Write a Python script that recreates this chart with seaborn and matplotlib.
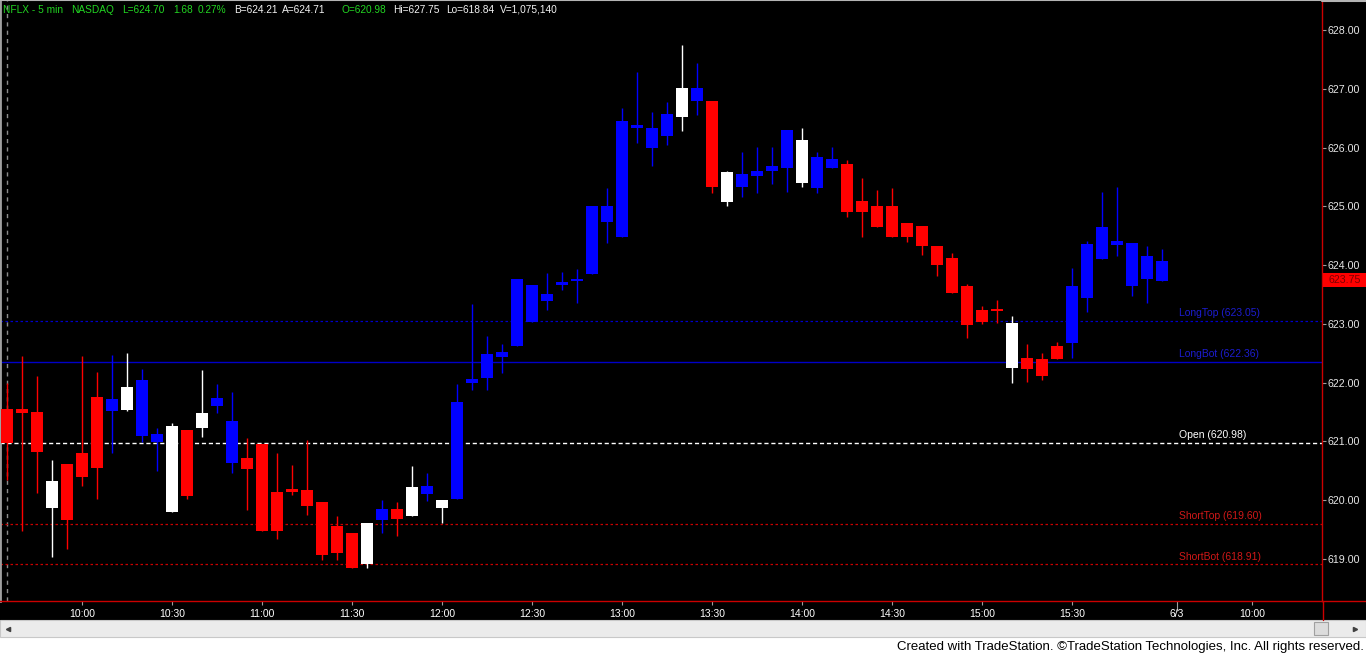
import numpy as np
import pandas as pd
import matplotlib
matplotlib.use("Agg")
import matplotlib.pyplot as plt
from matplotlib.patches import Rectangle
from matplotlib.lines import Line2D
import matplotlib.transforms as mtransforms
import seaborn as sns

# ---------------- data ----------------
times = pd.date_range("2015-06-02 09:35", "2015-06-02 16:00", freq="5min").strftime("%H:%M").tolist()

opens = [620.97, 621.55, 621.50, 619.87, 620.62, 620.80, 621.76, 621.52, 621.54, 621.09,
         620.99, 621.26, 621.19, 621.23, 621.60, 620.63, 620.72, 620.96, 620.14, 620.19,
         620.17, 619.97, 619.56, 619.44, 618.92, 619.66, 619.85, 619.73, 620.11, 620.00,
         620.02, 621.99, 622.08, 622.44, 622.62, 623.03, 623.39, 623.66, 623.73, 623.85,
         624.73, 624.48, 626.33, 626.33, 626.20, 626.52, 626.79, 626.79, 625.58, 625.33,
         625.52, 625.60, 625.65, 625.40, 625.31, 625.65, 625.72, 625.09, 625.01, 625.01,
         624.72, 624.67, 624.33, 624.12, 623.64, 623.24, 623.24, 622.25, 622.42, 622.40,
         622.62, 622.68, 623.44, 624.10, 624.34, 624.38, 624.16, 623.73]
highs = [621.99, 622.45, 622.11, 620.68, 620.62, 622.45, 622.18, 622.47, 622.50, 622.23,
         621.23, 621.31, 621.19, 622.22, 621.98, 621.84, 621.06, 620.96, 620.80, 620.60,
         621.02, 619.97, 619.73, 619.44, 619.61, 620.00, 619.97, 620.58, 620.46, 620.00,
         621.98, 623.34, 622.79, 622.66, 623.76, 623.66, 623.87, 623.88, 623.93, 625.01,
         625.31, 626.67, 627.29, 626.61, 626.78, 627.75, 627.44, 626.79, 625.60, 625.92,
         626.01, 626.01, 626.30, 626.33, 625.92, 626.01, 625.79, 625.48, 625.28, 625.31,
         624.72, 624.67, 624.33, 624.21, 623.68, 623.30, 623.41, 623.13, 622.66, 622.50,
         622.69, 623.95, 624.41, 625.24, 625.33, 624.38, 624.33, 624.27]
lows = [620.34, 619.48, 620.12, 619.03, 619.17, 620.24, 620.02, 620.80, 621.52, 620.99,
        620.50, 619.80, 620.02, 621.08, 621.48, 620.46, 619.83, 619.48, 619.34, 620.09,
        619.75, 618.98, 618.98, 618.84, 618.84, 619.44, 619.39, 619.73, 619.99, 619.61,
        620.02, 621.88, 621.88, 622.16, 622.62, 623.03, 623.24, 623.58, 623.36, 623.85,
        624.38, 624.48, 626.08, 625.69, 626.04, 626.28, 626.55, 625.23, 625.01, 625.16,
        625.23, 625.38, 625.24, 625.33, 625.23, 625.65, 624.82, 624.48, 624.65, 624.48,
        624.39, 624.17, 623.81, 623.53, 622.76, 623.00, 623.02, 621.99, 622.01, 622.05,
        622.40, 622.42, 623.20, 624.10, 624.16, 623.47, 623.36, 623.73]
closes = [621.55, 621.48, 620.82, 620.33, 619.66, 620.40, 620.55, 621.72, 621.93, 622.05,
          621.13, 619.80, 620.07, 621.48, 621.74, 621.35, 620.53, 619.48, 619.48, 620.14,
          619.90, 619.07, 619.10, 618.84, 619.61, 619.85, 619.68, 620.23, 620.24, 619.87,
          621.67, 622.06, 622.49, 622.52, 623.76, 623.66, 623.51, 623.71, 623.76, 625.01,
          625.01, 626.45, 626.38, 625.99, 626.57, 627.01, 627.01, 625.33, 625.07, 625.55,
          625.60, 625.69, 626.30, 626.13, 625.84, 625.81, 624.90, 624.90, 624.65, 624.48,
          624.48, 624.33, 624.00, 623.53, 622.98, 623.03, 623.22, 623.02, 622.23, 622.11,
          622.40, 623.64, 624.36, 624.65, 624.41, 623.64, 623.76, 624.07]
bar_colors = ["R", "R", "R", "W", "R", "R", "R", "B", "W", "B",
              "B", "W", "R", "W", "B", "B", "R", "R", "R", "R",
              "R", "R", "R", "R", "W", "B", "R", "W", "B", "W",
              "B", "B", "B", "B", "B", "B", "B", "B", "B", "B",
              "B", "B", "B", "B", "B", "W", "B", "R", "W", "B",
              "B", "B", "B", "W", "B", "B", "R", "R", "R", "R",
              "R", "R", "R", "R", "R", "R", "R", "W", "R", "R",
              "R", "B", "B", "B", "B", "B", "B", "B"]

level_names = ["LongTop", "LongBot", "Open", "ShortTop", "ShortBot"]
level_values = [623.05, 622.36, 620.98, 619.60, 618.91]

price_ticks = [619, 620, 621, 622, 623, 624, 625, 626, 627, 628]
time_tick_labels = ["10:00", "10:30", "11:00", "11:30", "12:00", "12:30", "13:00",
                    "13:30", "14:00", "14:30", "15:00", "15:30"]
next_day_labels = ["6/3", "10:00"]
last_price = 623.75

header_parts = [("NFLX - 5 min", "g"), ("NASDAQ", "g"), ("L=624.70", "g"), ("1.68", "g"),
                ("0.27%", "g"), ("B=624.21", "w"), ("A=624.71", "w"), ("O=620.98", "g"),
                ("Hi=627.75", "w"), ("Lo=618.84", "w"), ("V=1,075,140", "w")]
footer = "Created with TradeStation. \u00a9TradeStation Technologies, Inc. All rights reserved."

# ---------------- style ----------------
sns.set_theme(style="dark", rc={"axes.facecolor": "black", "figure.facecolor": "black"})
plt.rcParams["font.family"] = ["Liberation Sans", "DejaVu Sans"]

W, H = 1366, 655
def fx(px):
    return px / W
def fy(py):
    return 1 - py / H

fig = plt.figure(figsize=(W / 100, H / 100), dpi=100, facecolor="black")
ax = fig.add_axes([0, fy(601), fx(1322), 601 / H])
ax.set_facecolor("black")

# ---------------- candles ----------------
x = np.arange(len(times))
cmap = {"R": "#FF0000", "B": "#0000FF", "W": "#FFFFFF"}
cols = [cmap[c] for c in bar_colors]
o = np.array(opens)
c = np.array(closes)
ax.vlines(x, lows, highs, colors=cols, linewidth=1.0, zorder=3)
bottoms = np.minimum(o, c)
heights = np.maximum(np.abs(c - o), 0.03)
ax.bar(x, heights, bottom=bottoms, width=0.74, color=cols, linewidth=0, zorder=4)

# session start line
ax.axvline(0, color="#8A8A8A", linestyle=(0, (3, 3)), linewidth=1.0, zorder=1)

# ---------------- levels ----------------
lstyles = {"LongTop": ("#0000C8", (0, (2, 2)), 0.9, "#1C1CD0"),
           "LongBot": ("#0000C8", "-", 1.0, "#1C1CD0"),
           "Open": ("#FFFFFF", (0, (3, 2)), 1.0, "#FFFFFF"),
           "ShortTop": ("#C80000", (0, (2, 2)), 0.9, "#D01818"),
           "ShortBot": ("#C80000", (0, (2, 2)), 0.9, "#D01818")}
label_x = len(times) + 0.15
for name, val in zip(level_names, level_values):
    lc, ls, lw, tc = lstyles[name]
    ax.axhline(val, color=lc, linestyle=ls, linewidth=lw, zorder=2)
    ax.annotate(f"{name} ({val:.2f})", xy=(label_x, val), xytext=(0, 1.8),
                textcoords="offset points", ha="left", va="bottom",
                color=tc, fontsize=7.5, zorder=5)

# ---------------- axes ----------------
ax.set_xlim(-0.467, 87.67)
ax.set_ylim(618.286, 628.51)

tick_pos = [times.index(t) for t in time_tick_labels] + [len(times), len(times) + 5]
ax.set_xticks(tick_pos)
ax.set_xticklabels(time_tick_labels + next_day_labels)
ax.tick_params(axis="x", colors="#A0A0A0", labelcolor="white", length=3, width=0.8,
               labelsize=7.5, pad=2.5, direction="out", bottom=True)
xt = ax.xaxis.get_major_ticks()
xt[len(time_tick_labels)].tick1line.set_color("#CC0000")
xt[len(time_tick_labels)].tick1line.set_markersize(7)

ax.yaxis.tick_right()
ax.set_yticks(price_ticks)
ax.set_yticklabels([f"{v:.2f}" for v in price_ticks])
ax.tick_params(axis="y", colors="#A0A0A0", labelcolor="#E6E6E6", length=3, width=0.8,
               labelsize=7.7, pad=1, right=True, left=False)
ax.grid(False)

for side in ["right", "bottom"]:
    ax.spines[side].set_visible(True)
    ax.spines[side].set_color("#CC0000")
    ax.spines[side].set_linewidth(1.0)
ax.spines["top"].set_visible(True)
ax.spines["top"].set_color("#B4B4B4")
ax.spines["top"].set_linewidth(1.5)
ax.spines["left"].set_visible(True)
ax.spines["left"].set_color("#A0A0A0")
ax.spines["left"].set_linewidth(2.0)

# red frame extensions
fig.lines.append(Line2D([fx(1322.5), fx(1322.5)], [fy(601), fy(620)], transform=fig.transFigure,
                        color="#CC0000", linewidth=1.0))
fig.lines.append(Line2D([fx(1322), 1], [fy(601), fy(601)], transform=fig.transFigure,
                        color="#CC0000", linewidth=1.0))
fig.lines.append(Line2D([fx(1322), 1], [fy(0.5), fy(0.5)], transform=fig.transFigure,
                        color="#B4B4B4", linewidth=1.5))

# last price marker
trans = mtransforms.blended_transform_factory(ax.transAxes, ax.transData)
ax.add_patch(Rectangle((1.0 + 1 / 1322, last_price - 0.12), 44 / 1322, 0.24, transform=trans,
                       facecolor="#FF0000", edgecolor="none", clip_on=False, zorder=6))
ax.text(1.0 + 23 / 1322, last_price, f"{last_price:.2f}", transform=trans, ha="center",
        va="center", color="#7A0000", fontsize=7.7, zorder=7, clip_on=False)

# ---------------- header ----------------
header_x = [3, 71, 122, 173, 198, 234, 282, 342, 393, 446, 500]
hcol = {"g": "#22D622", "w": "#F2F2F2"}
for (txt, cc), px in zip(header_parts, header_x):
    fig.text(fx(px), fy(10), txt, color=hcol[cc], fontsize=7.3, ha="left", va="center")

# ---------------- scrollbar & footer ----------------
fig.patches.append(Rectangle((0, 0), 1, 18 / H, transform=fig.transFigure,
                             facecolor="white", edgecolor="none", zorder=1))
fig.patches.append(Rectangle((0, fy(637)), 1, 17 / H, transform=fig.transFigure,
                             facecolor="#EBEBEB", edgecolor="#C8C8C8", linewidth=0.8, zorder=1))
fig.patches.append(Rectangle((fx(1314), fy(635)), 14 / W, 13 / H, transform=fig.transFigure,
                             facecolor="#DCDCDC", edgecolor="#A0A0A0", linewidth=0.8, zorder=2))
fig.lines.append(Line2D([fx(8)], [fy(628.5)], transform=fig.transFigure, marker="<",
                        markersize=3, color="#404040", linestyle="none", zorder=3))
fig.lines.append(Line2D([fx(1355)], [fy(628.5)], transform=fig.transFigure, marker=">",
                        markersize=3, color="#404040", linestyle="none", zorder=3))
fig.text(fx(1364), fy(647), footer, ha="right", va="center", fontsize=9.5, color="black")

fig.savefig("out.png", dpi=100, facecolor=fig.get_facecolor())
